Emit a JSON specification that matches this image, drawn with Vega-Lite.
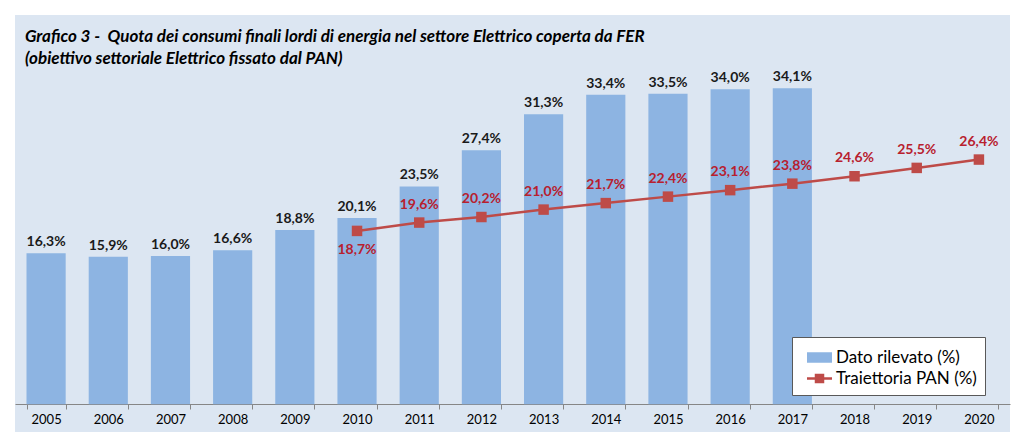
{
  "$schema": "https://vega.github.io/schema/vega-lite/v6.json",
  "width": 995,
  "height": 417,
  "autosize": {"type": "none"},
  "padding": {"left": 15, "top": 15, "right": 14, "bottom": 14},
  "background": "white",
  "config": {
    "view": {"fill": "#DCE6F2", "stroke": null},
    "locale": {"number": {"decimal": ",", "thousands": ".", "grouping": [3], "currency": ["", " €"]}},
    "font": "Lato"
  },
  "title": {
    "text": ["Grafico 3 - \u00a0Quota dei consumi finali lordi di energia nel settore Elettrico coperta da FER", "(obiettivo settoriale Elettrico fissato dal PAN)"],
    "anchor": "start",
    "frame": "group",
    "orient": "top",
    "font": "Lato",
    "fontSize": 17,
    "fontStyle": "italic",
    "fontWeight": "bold",
    "color": "#000000",
    "lineHeight": 22,
    "baseline": "top",
    "offset": -53,
    "dx": 10
  },
  "datasets": {
    "bars": [
      {"anno": "2005", "valore": 0.163},
      {"anno": "2006", "valore": 0.159},
      {"anno": "2007", "valore": 0.160},
      {"anno": "2008", "valore": 0.166},
      {"anno": "2009", "valore": 0.188},
      {"anno": "2010", "valore": 0.201},
      {"anno": "2011", "valore": 0.235},
      {"anno": "2012", "valore": 0.274},
      {"anno": "2013", "valore": 0.313},
      {"anno": "2014", "valore": 0.334},
      {"anno": "2015", "valore": 0.335},
      {"anno": "2016", "valore": 0.340},
      {"anno": "2017", "valore": 0.341}
    ],
    "pan": [
      {"anno": "2010", "valore": 0.187},
      {"anno": "2011", "valore": 0.196},
      {"anno": "2012", "valore": 0.202},
      {"anno": "2013", "valore": 0.210},
      {"anno": "2014", "valore": 0.217},
      {"anno": "2015", "valore": 0.224},
      {"anno": "2016", "valore": 0.231},
      {"anno": "2017", "valore": 0.238},
      {"anno": "2018", "valore": 0.246},
      {"anno": "2019", "valore": 0.255},
      {"anno": "2020", "valore": 0.264}
    ]
  },
  "encoding": {
    "x": {
      "field": "anno",
      "type": "nominal",
      "scale": {
        "domain": ["2005", "2006", "2007", "2008", "2009", "2010", "2011", "2012", "2013", "2014", "2015", "2016", "2017", "2018", "2019", "2020"],
        "paddingInner": 0.37,
        "paddingOuter": 0.185
      },
      "axis": {
        "title": null,
        "orient": "bottom",
        "offset": -28,
        "labelAngle": 0,
        "tickBand": "extent",
        "domainColor": "#868686",
        "tickColor": "#868686",
        "tickSize": 5,
        "labelPadding": 4,
        "labelFont": "Lato",
        "labelFontSize": 13,
        "labelColor": "#000000",
        "grid": false
      }
    },
    "y": {
      "field": "valore",
      "type": "quantitative",
      "scale": {"domain": [-0.03, 0.42], "nice": false, "zero": false},
      "axis": null
    }
  },
  "layer": [
    {
      "data": {"name": "bars"},
      "mark": {"type": "bar"},
      "encoding": {
        "y2": {"datum": 0},
        "color": {
          "datum": "Dato rilevato (%)",
          "scale": {"domain": ["Dato rilevato (%)", "Traiettoria PAN (%)"], "range": ["#8DB4E2", "#BE4B48"]},
          "legend": {
            "orient": "none",
            "legendX": 777,
            "legendY": 322,
            "title": null,
            "fillColor": "#FFFFFF",
            "strokeColor": "#595959",
            "padding": 8,
            "labelFont": "Lato",
            "labelFontSize": 17,
            "labelColor": "#000000",
            "symbolSize": 625,
            "rowPadding": 0,
            "labelOffset": 4,
            "symbolOffset": 7,
            "symbolStrokeWidth": 0,
            "encode": {
              "symbols": {
                "update": {
                  "shape": {"signal": "datum.value === 'Dato rilevato (%)' ? 'M-1,-0.42H1V0.42H-1Z' : 'M-1,-0.1H1V0.1H-1Z M-0.38,-0.38H0.38V0.38H-0.38Z'"},
                  "fill": {"signal": "datum.value === 'Dato rilevato (%)' ? '#8DB4E2' : '#BE4B48'"},
                  "stroke": {"value": "transparent"},
                  "strokeWidth": {"value": 0},
                  "opacity": {"value": 1},
                  "fillOpacity": {"value": 1}
                }
              }
            }
          }
        }
      }
    },
    {
      "data": {"name": "bars"},
      "mark": {"type": "text", "dy": -7, "baseline": "alphabetic", "fontWeight": "bold", "fontSize": 14, "font": "Lato", "color": "#1A1A1A"},
      "encoding": {
        "text": {"field": "valore", "type": "quantitative", "format": ".1%"}
      }
    },
    {
      "data": {"name": "pan"},
      "mark": {"type": "line", "strokeWidth": 2.5, "point": {"shape": "square", "size": 110, "filled": true, "opacity": 1}},
      "encoding": {
        "color": {"datum": "Traiettoria PAN (%)"}
      }
    },
    {
      "data": {"name": "pan"},
      "transform": [{"filter": "datum.anno !== '2010'"}],
      "mark": {"type": "text", "dy": -14, "baseline": "alphabetic", "fontWeight": "bold", "fontSize": 14, "font": "Lato", "color": "#B8202E"},
      "encoding": {
        "text": {"field": "valore", "type": "quantitative", "format": ".1%"}
      }
    },
    {
      "data": {"name": "pan"},
      "transform": [{"filter": "datum.anno === '2010'"}],
      "mark": {"type": "text", "dy": 23, "baseline": "alphabetic", "fontWeight": "bold", "fontSize": 14, "font": "Lato", "color": "#B8202E"},
      "encoding": {
        "text": {"field": "valore", "type": "quantitative", "format": ".1%"}
      }
    }
  ]
}
